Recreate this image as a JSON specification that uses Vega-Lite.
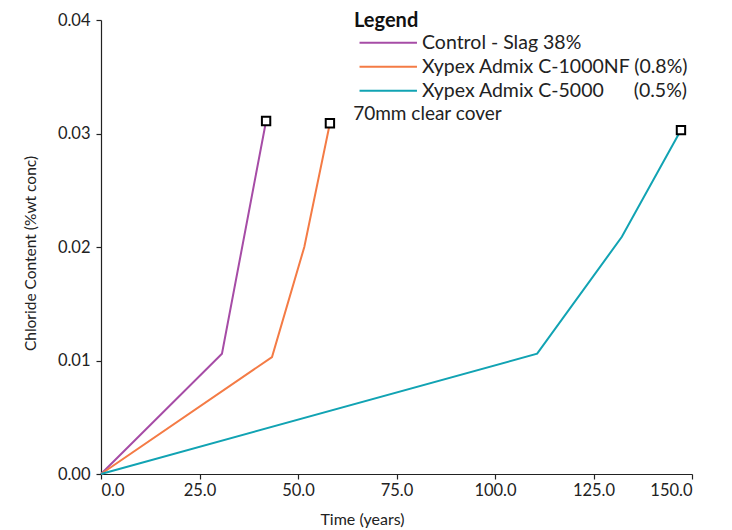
{
  "$schema": "https://vega.github.io/schema/vega-lite/v6.json",
  "width": 591,
  "height": 454,
  "autosize": {"type": "none"},
  "padding": {"left": 101, "top": 20, "right": 40, "bottom": 56},
  "background": "white",
  "config": {
    "view": {"stroke": null},
    "font": "Lato",
    "axis": {
      "grid": false,
      "domainColor": "#222222",
      "tickColor": "#222222",
      "labelColor": "#222222",
      "titleColor": "#222222",
      "labelFont": "Lato",
      "titleFont": "Lato",
      "labelFontSize": 16.5,
      "titleFontSize": 15.5,
      "titleFontWeight": "normal",
      "tickSize": 5,
      "domainWidth": 1.2,
      "tickWidth": 1.2
    }
  },
  "data": {
    "values": [
      {"series": "Control - Slag 38%", "t": 0, "c": 0},
      {"series": "Control - Slag 38%", "t": 30.7, "c": 0.0106},
      {"series": "Control - Slag 38%", "t": 41.9, "c": 0.0311},
      {"series": "Xypex Admix C-1000NF (0.8%)", "t": 0, "c": 0},
      {"series": "Xypex Admix C-1000NF (0.8%)", "t": 43.4, "c": 0.0103},
      {"series": "Xypex Admix C-1000NF (0.8%)", "t": 51.6, "c": 0.0200},
      {"series": "Xypex Admix C-1000NF (0.8%)", "t": 58.1, "c": 0.0309},
      {"series": "Xypex Admix C-5000\u00a0\u00a0\u00a0\u00a0\u00a0\u00a0(0.5%)", "t": 0, "c": 0},
      {"series": "Xypex Admix C-5000\u00a0\u00a0\u00a0\u00a0\u00a0\u00a0(0.5%)", "t": 110.7, "c": 0.0106},
      {"series": "Xypex Admix C-5000\u00a0\u00a0\u00a0\u00a0\u00a0\u00a0(0.5%)", "t": 132.2, "c": 0.0209},
      {"series": "Xypex Admix C-5000\u00a0\u00a0\u00a0\u00a0\u00a0\u00a0(0.5%)", "t": 147.2, "c": 0.0303}
    ]
  },
  "layer": [
    {
      "mark": {"type": "line", "strokeWidth": 2},
      "encoding": {
        "x": {
          "field": "t", "type": "quantitative",
          "scale": {"domain": [0, 150], "nice": false},
          "axis": {"values": [0, 25, 50, 75, 100, 125, 150], "format": ".1f", "title": "Time (years)", "titleX": 261, "titleY": 37, "labelPadding": 3, "titleFontSize": 16}
        },
        "y": {
          "field": "c", "type": "quantitative",
          "scale": {"domain": [0, 0.04], "nice": false},
          "axis": {"values": [0, 0.01, 0.02, 0.03, 0.04], "format": ".2f", "title": "Chloride Content (%wt conc)", "titleX": -63, "titleY": 233, "labelPadding": 6}
        },
        "color": {
          "field": "series", "type": "nominal",
          "scale": {
            "domain": ["Control - Slag 38%", "Xypex Admix C-1000NF (0.8%)", "Xypex Admix C-5000\u00a0\u00a0\u00a0\u00a0\u00a0\u00a0(0.5%)"],
            "range": ["#a64ca6", "#f47b45", "#11a3b3"]
          },
          "legend": {
            "title": "Legend",
            "orient": "none",
            "legendX": 253,
            "legendY": -9,
            "titleFontSize": 20,
            "titleFontWeight": "bold",
            "titleColor": "#111111",
            "titleFont": "Lato",
            "labelFont": "Lato",
            "labelFontSize": 19.5,
            "labelColor": "#222222",
            "labelLimit": 400,
            "symbolType": "M-5,0H5",
            "symbolSize": 132,
            "symbolStrokeWidth": 2.2,
            "symbolOffset": 24.5,
            "labelOffset": 24,
            "rowPadding": 3,
            "titlePadding": 2
          }
        }
      }
    },
    {
      "transform": [
        {"aggregate": [{"op": "argmax", "field": "t", "as": "last"}], "groupby": ["series"]}
      ],
      "mark": {"type": "square", "filled": true, "fill": "white", "stroke": "black", "strokeWidth": 2, "size": 70, "opacity": 1},
      "encoding": {
        "x": {"field": "last.t", "type": "quantitative"},
        "y": {"field": "last.c", "type": "quantitative"}
      }
    },
    {
      "data": {"values": [{}]},
      "mark": {"type": "text", "text": "70mm clear cover", "align": "left", "baseline": "middle", "fontSize": 19, "font": "Lato", "color": "#222222"},
      "encoding": {
        "x": {"datum": 64},
        "y": {"datum": 0.0317}
      }
    }
  ]
}
